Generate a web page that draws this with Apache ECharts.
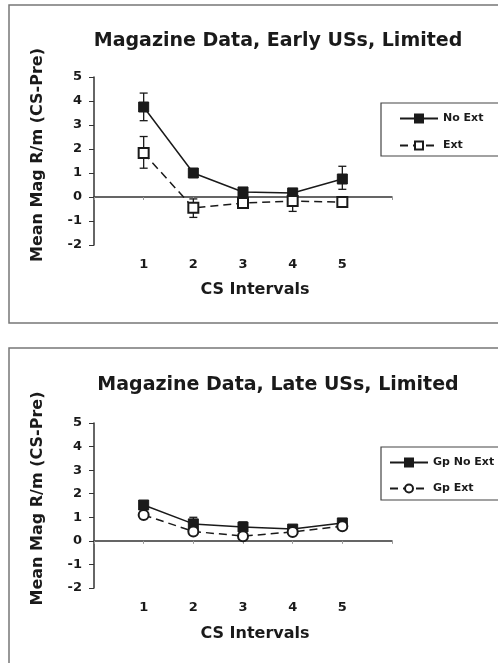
<!DOCTYPE html>
<html><head><meta charset="utf-8">
<script src="https://cdn.jsdelivr.net/npm/echarts@6/dist/echarts.min.js"></script>
<style>html,body{margin:0;padding:0;background:#fff}#c{width:498px;height:663px}</style>
</head><body><div id="c"></div>
<script>
const intervals = [1, 2, 3, 4, 5];
const xTickLabels = ['1', '2', '3', '4', '5'];
const yTickLabels = ['-2', '-1', '0', '1', '2', '3', '4', '5'];

// Top panel: Early USs
const earlyNoExt = [3.75, 1.0, 0.21, 0.17, 0.75];
const earlyNoExtLow = [3.18, 0.88, 0.1, 0.07, 0.32];
const earlyNoExtHigh = [4.33, 1.1, 0.32, 0.27, 1.28];
const earlyExt = [1.83, -0.45, -0.25, -0.17, -0.21];
const earlyExtLow = [1.2, -0.85, -0.45, -0.6, -0.35];
const earlyExtHigh = [2.52, -0.08, -0.05, 0.05, -0.07];

// Bottom panel: Late USs
const lateNoExt = [1.52, 0.72, 0.59, 0.5, 0.76];
const lateNoExtLow = [1.38, 0.45, 0.4, 0.4, 0.66];
const lateNoExtHigh = [1.66, 1.0, 0.8, 0.6, 0.86];
const lateExt = [1.1, 0.4, 0.2, 0.38, 0.62];
const lateExtLow = [1.0, 0.3, 0.08, 0.28, 0.52];
const lateExtHigh = [1.2, 0.5, 0.32, 0.48, 0.72];

const FONT = 'DejaVu Sans';
const INK = '#1a1a1a';

function pairs(ys) { return intervals.map((x, i) => [x, ys[i]]); }
function errData(lo, hi) { return intervals.map((x, i) => [x, lo[i], hi[i]]); }

function errSeries(xi, yi, lo, hi) {
  return {
    type: 'custom', xAxisIndex: xi, yAxisIndex: yi, silent: true, z: 1,
    data: errData(lo, hi),
    renderItem: function (params, api) {
      const x = api.value(0);
      const p1 = api.coord([x, api.value(1)]);
      const p2 = api.coord([x, api.value(2)]);
      const w = 4;
      const st = { stroke: INK, lineWidth: 1.3 };
      return { type: 'group', children: [
        { type: 'line', shape: { x1: p1[0], y1: p1[1], x2: p2[0], y2: p2[1] }, style: st },
        { type: 'line', shape: { x1: p1[0] - w, y1: p1[1], x2: p1[0] + w, y2: p1[1] }, style: st },
        { type: 'line', shape: { x1: p2[0] - w, y1: p2[1], x2: p2[0] + w, y2: p2[1] }, style: st }
      ]};
    }
  };
}

function lineSeries(name, xi, yi, ys, dashed, symbol, filled) {
  return {
    name: name, type: 'line', xAxisIndex: xi, yAxisIndex: yi, z: 3,
    data: pairs(ys), symbol: symbol, symbolSize: 10,
    lineStyle: { color: INK, width: 1.5, type: dashed ? [8, 5] : 'solid' },
    itemStyle: { color: filled ? INK : '#fff', borderColor: INK, borderWidth: filled ? 1 : 2 },
    emphasis: { disabled: true }
  };
}

const grids = [
  { left: 94, top: 77, width: 298, height: 168 },
  { left: 94, top: 423, width: 298, height: 165 }
];

const xAxes = [];
const yAxes = [];
[0, 1].forEach(g => {
  xAxes.push({
    type: 'value', gridIndex: g, position: 'bottom', min: 0, max: 6, interval: 1,
    axisLine: { show: true, onZero: true, lineStyle: { color: '#333', width: 1.5 } },
    axisTick: { show: true, length: 3, lineStyle: { color: '#999' } },
    axisLabel: { show: false }, splitLine: { show: false }
  });
  xAxes.push({
    type: 'value', gridIndex: g, position: 'bottom', min: 0, max: 6, interval: 1,
    axisLine: { show: false, onZero: false }, axisTick: { show: false },
    splitLine: { show: false },
    axisLabel: { show: true, margin: 13, color: INK, fontFamily: FONT, fontWeight: 'bold', fontSize: 13,
      formatter: v => { const i = intervals.indexOf(v); return i >= 0 ? xTickLabels[i] : ''; } },
    name: 'CS Intervals', nameLocation: 'middle', nameGap: g === 0 ? 37 : 38,
    nameTextStyle: { color: INK, fontFamily: FONT, fontWeight: 'bold', fontSize: 16, padding: [0, 0, 0, 24] }
  });
  yAxes.push({
    type: 'value', gridIndex: g, min: -2, max: 5, interval: 1,
    axisLine: { show: true, lineStyle: { color: '#333', width: 1.5 } },
    axisTick: { show: true, inside: false, length: 5, lineStyle: { color: '#333' } },
    splitLine: { show: false },
    axisLabel: { margin: 12, color: INK, fontFamily: FONT, fontWeight: 'bold', fontSize: 13,
      formatter: v => { const s = String(v); return yTickLabels.indexOf(s) >= 0 ? s : ''; } },
    name: 'Mean Mag R/m (CS-Pre)', nameLocation: 'middle', nameGap: 48, nameRotate: 90,
    nameTextStyle: { color: INK, fontFamily: FONT, fontWeight: 'bold', fontSize: 16, padding: [0, 0, 0, g === 0 ? 12 : 14] }
  });
});

const option = {
  animation: false,
  backgroundColor: '#fff',
  title: [
    { text: 'Magazine Data, Early USs, Limited', left: 273, textAlign: 'center', top: 27,
      textStyle: { fontFamily: FONT, fontWeight: 'bold', fontSize: 19, color: INK } },
    { text: 'Magazine Data, Late USs, Limited', left: 273, textAlign: 'center', top: 371,
      textStyle: { fontFamily: FONT, fontWeight: 'bold', fontSize: 19, color: INK } }
  ],
  graphic: [
    { type: 'rect', shape: { x: 9, y: 5, width: 520, height: 318 }, style: { fill: 'none', stroke: '#777', lineWidth: 1.5 }, z: -1 },
    { type: 'rect', shape: { x: 9, y: 348, width: 520, height: 340 }, style: { fill: 'none', stroke: '#777', lineWidth: 1.5 }, z: -1 },
    { type: 'rect', shape: { x: 381, y: 103, width: 130, height: 53 }, style: { fill: '#fff', stroke: '#444', lineWidth: 1.2 }, z: 5 },
    { type: 'rect', shape: { x: 381, y: 447, width: 130, height: 53 }, style: { fill: '#fff', stroke: '#444', lineWidth: 1.2 }, z: 5 }
  ],
  legend: [
    { data: ['No Ext', 'Ext'], orient: 'vertical', left: 394, top: 108, itemGap: 16, itemWidth: 38, itemHeight: 10, z: 10, itemTextGap: 3,
      textStyle: { fontFamily: FONT, fontWeight: 'bold', fontSize: 11, color: INK } },
    { data: ['Gp No Ext', 'Gp Ext'], orient: 'vertical', left: 384, top: 452, itemGap: 15, itemWidth: 38, itemHeight: 10, z: 10, itemTextGap: 3,
      textStyle: { fontFamily: FONT, fontWeight: 'bold', fontSize: 11, color: INK } }
  ],
  grid: grids,
  xAxis: xAxes,
  yAxis: yAxes,
  series: [
    errSeries(0, 0, earlyNoExtLow, earlyNoExtHigh),
    errSeries(0, 0, earlyExtLow, earlyExtHigh),
    lineSeries('No Ext', 0, 0, earlyNoExt, false, 'rect', true),
    lineSeries('Ext', 0, 0, earlyExt, true, 'rect', false),
    errSeries(2, 1, lateNoExtLow, lateNoExtHigh),
    errSeries(2, 1, lateExtLow, lateExtHigh),
    lineSeries('Gp No Ext', 2, 1, lateNoExt, false, 'rect', true),
    lineSeries('Gp Ext', 2, 1, lateExt, true, 'circle', false)
  ]
};
const chart = echarts.init(document.getElementById('c'), null, { renderer: 'canvas' });
chart.setOption(option);
</script></body></html>
